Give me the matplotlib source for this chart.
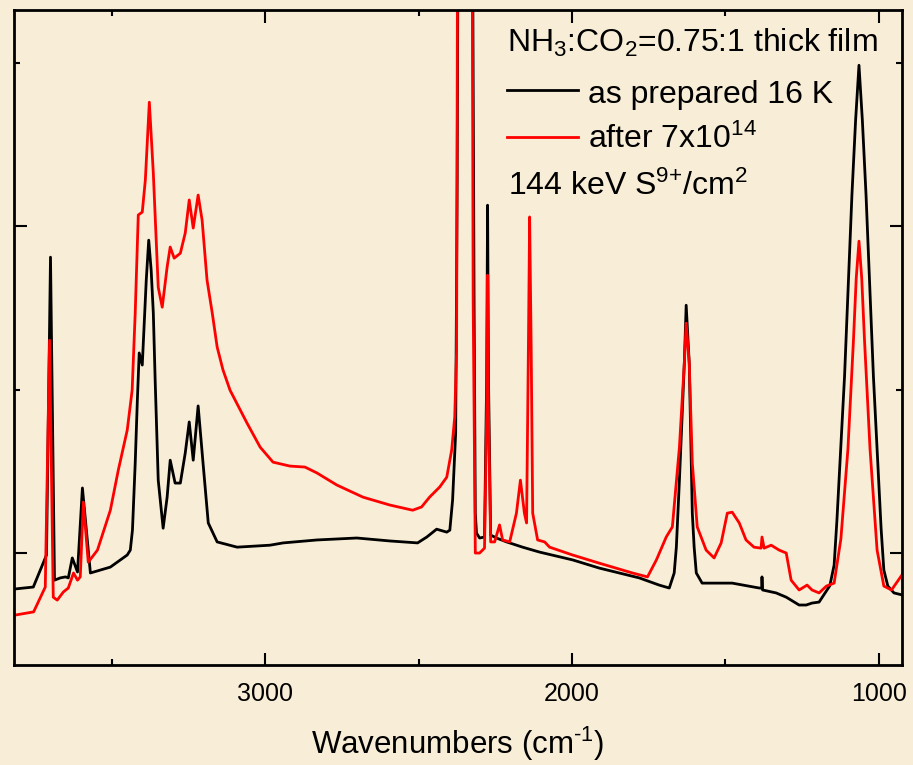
import numpy as np
import matplotlib
matplotlib.use('Agg')
import matplotlib.pyplot as plt
from matplotlib.ticker import MultipleLocator, FixedLocator, NullFormatter

plt.rcParams['font.family'] = ['Liberation Sans', 'DejaVu Sans']
plt.rcParams['mathtext.fontset'] = 'custom'
plt.rcParams['mathtext.rm'] = 'Liberation Sans'
plt.rcParams['mathtext.it'] = 'Liberation Sans:italic'
plt.rcParams['mathtext.default'] = 'regular'

# NH3:CO2 film as prepared at 16 K
wn_prep = [3816, 3755, 3712, 3699, 3686, 3667, 3650, 3641, 3628, 3611, 3595, 3569,
           3504, 3449, 3439, 3432, 3423, 3416, 3410, 3400, 3387, 3379, 3371, 3364,
           3358, 3348, 3332, 3319, 3309,
           3293, 3276, 3260, 3247, 3234, 3218, 3202, 3185, 3156, 3091, 2984, 2941,
           2831, 2701, 2594, 2503, 2473, 2441, 2408, 2398, 2389, 2379, 2374, 2369,
           2327, 2319, 2315, 2311, 2301, 2285, 2278, 2275, 2272, 2265, 2246, 2213,
           2161, 2106, 1998, 1911, 1846, 1781, 1716, 1683, 1667, 1660, 1650, 1634, 1628,
           1618, 1608, 1602, 1595, 1576, 1478, 1390, 1382, 1381, 1379, 1335, 1302, 1260,
           1237, 1218, 1195, 1160, 1146, 1137, 1112, 1088, 1076, 1065, 1054, 1042, 1018,
           993, 984, 971, 951, 925]
abs_prep = [-0.110, -0.104, -0.006, 0.905, -0.083, -0.076, -0.073, -0.076, -0.015, -0.058, 0.199, -0.061,
            -0.043, -0.006, 0.009, 0.070, 0.275, 0.468, 0.612, 0.575, 0.835, 0.957, 0.865, 0.734,
            0.529, 0.223, 0.076, 0.171, 0.284,
            0.214, 0.214, 0.306, 0.401, 0.284, 0.450, 0.275, 0.092, 0.034, 0.018, 0.024, 0.031,
            0.040, 0.046, 0.037, 0.031, 0.049, 0.073, 0.064, 0.070, 0.162, 0.367, 1.140, 2.600,
            2.600, 0.774, 0.122, 0.061, 0.046, 0.049, 0.529, 1.064, 0.529, 0.055, 0.046, 0.034,
            0.018, 0.003, -0.021, -0.046, -0.061, -0.076, -0.098, -0.107, -0.061, 0.018, 0.223, 0.581, 0.758,
            0.581, 0.122, 0.018, -0.061, -0.092, -0.092, -0.107, -0.107, -0.073, -0.113, -0.122, -0.135, -0.159,
            -0.159, -0.153, -0.150, -0.100, -0.037, 0.098, 0.541, 1.095, 1.324, 1.492, 1.324, 1.095, 0.541,
            0.076, -0.052, -0.101, -0.122, -0.128]

# after 7x10^14 144 keV S9+/cm2
wn_irr = [3816, 3754, 3716, 3702, 3690, 3677, 3657, 3641, 3624, 3611, 3602, 3592,
          3576, 3546, 3504, 3478, 3449, 3433, 3423, 3413, 3400, 3390, 3377, 3364, 3348,
          3335, 3319, 3309, 3296, 3276, 3260, 3247, 3234, 3218, 3205, 3189, 3172, 3156,
          3137, 3114, 3059, 3016, 2974, 2919, 2870, 2831, 2766, 2681, 2594, 2519, 2490,
          2464, 2431, 2408, 2392, 2382, 2376, 2371, 2327, 2322, 2315, 2301, 2285,
          2278, 2275, 2272, 2265, 2252, 2236, 2226, 2203, 2181, 2168, 2155, 2148,
          2142, 2138, 2133, 2128, 2112, 2089, 2073, 1998, 1911, 1868, 1803, 1754,
          1725, 1693, 1673, 1650, 1634, 1628, 1618, 1608, 1592, 1563, 1537, 1514,
          1494, 1478, 1455, 1433, 1407, 1384, 1381, 1374, 1351, 1325, 1302, 1286,
          1260, 1234, 1218, 1195, 1171, 1146, 1124, 1101, 1083, 1074, 1065, 1056, 1047, 1029,
          1006, 984, 959, 925]
abs_irr = [-0.190, -0.180, -0.104, 0.651, -0.135, -0.144, -0.119, -0.107, -0.061, -0.083, -0.073, 0.156,
           -0.028, 0.009, 0.131, 0.254, 0.376, 0.498, 0.734, 1.034, 1.043, 1.141, 1.379, 1.162, 0.813,
           0.752, 0.875, 0.936, 0.902, 0.917, 0.979, 1.080, 0.994, 1.095, 1.018, 0.835, 0.734, 0.630,
           0.560, 0.498, 0.398, 0.324, 0.278, 0.266, 0.263, 0.245, 0.208, 0.171, 0.147, 0.131, 0.141,
           0.171, 0.202, 0.232, 0.315, 0.416, 0.620, 2.600, 2.600, 0.774, 0.000, 0.000, 0.015,
           0.428, 0.850, 0.428, 0.034, 0.034, 0.086, 0.040, 0.034, 0.122, 0.223, 0.122, 0.092,
           0.630, 1.028, 0.630, 0.122, 0.040, 0.034, 0.018, -0.006, -0.031, -0.043, -0.061, -0.073,
           -0.021, 0.049, 0.080, 0.324, 0.581, 0.703, 0.581, 0.275, 0.080, 0.009, -0.015, 0.031,
           0.122, 0.125, 0.092, 0.040, 0.018, 0.015, 0.049, 0.015, 0.024, 0.009, 0.000, -0.083,
           -0.113, -0.098, -0.113, -0.122, -0.101, -0.092, 0.043, 0.318, 0.651, 0.840, 0.954, 0.840, 0.651, 0.318,
           0.009, -0.101, -0.113, -0.067]

bg = '#f8edd6'
fig = plt.figure(figsize=(9.13, 7.65), dpi=100, facecolor=bg)
ax = fig.add_axes([0.0153, 0.1307, 0.9726, 0.8562])
ax.set_facecolor(bg)

ax.plot(wn_prep, abs_prep, color='black', lw=2.0, solid_joinstyle='round')
ax.plot(wn_irr, abs_irr, color='#ff0000', lw=2.0, solid_joinstyle='round')

ax.set_xlim(3818, 925)
ax.set_ylim(-0.3425, 1.661)

ax.xaxis.set_major_locator(MultipleLocator(1000))
ax.xaxis.set_minor_locator(MultipleLocator(500))
ax.yaxis.set_major_locator(FixedLocator([0, 1]))
ax.yaxis.set_minor_locator(FixedLocator([0.5, 1.5]))
ax.yaxis.set_major_formatter(NullFormatter())
ax.tick_params(which='both', direction='in', top=True, right=True, width=1.5)
ax.tick_params(which='major', length=9, labelsize=18, pad=12)
ax.tick_params(which='minor', length=4)
for s in ax.spines.values():
    s.set_linewidth(2.0)

ax.set_xlabel(r'Wavenumbers (cm$^{\text{-}1}$)', fontsize=22.5, labelpad=14)

# legend block
fs = 23
ax.text(0.555, 0.936, 'NH$_3$:CO$_2$=0.75:1 thick film', transform=ax.transAxes,
        fontsize=fs, va='baseline')
ax.plot([0.555, 0.635], [0.878, 0.878], color='black', lw=2.0, transform=ax.transAxes)
ax.text(0.646, 0.858, 'as prepared 16 K', transform=ax.transAxes, fontsize=fs, va='baseline')
ax.plot([0.555, 0.635], [0.806, 0.806], color='#ff0000', lw=2.0, transform=ax.transAxes)
ax.text(0.646, 0.789, 'after 7x10$^{14}$', transform=ax.transAxes, fontsize=fs, va='baseline')
ax.text(0.556, 0.718, '144 keV S$^{9{+}}$/cm$^2$', transform=ax.transAxes,
        fontsize=fs, va='baseline')

fig.savefig('out.png', dpi=100, facecolor=bg)
